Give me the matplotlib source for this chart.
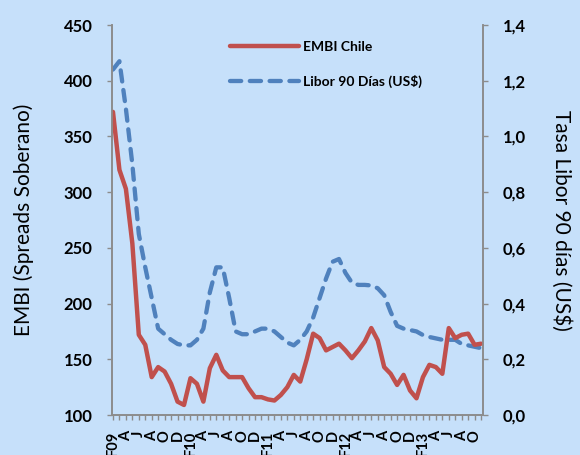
import matplotlib
matplotlib.use("Agg")
import matplotlib.pyplot as plt

# Monthly data, Feb 2009 .. Nov 2013
month_letters = ["F", "A", "J", "A", "O", "D"]
years = ["09", "10", "11", "12", "13"]

embi = [372, 320, 303, 254, 172, 163, 134, 143, 139, 128, 112, 109, 133, 128, 112,
        142, 154, 140, 134, 134, 134, 124, 116, 116, 114, 113, 118, 125, 136, 130,
        150, 173, 169, 158, 161, 164, 158, 151, 158, 166, 178, 167, 143, 137, 127,
        136, 122, 115, 134, 145, 143, 137, 178, 169, 172, 173, 163, 164]

libor = [1.24, 1.27, 1.10, 0.90, 0.65, 0.53, 0.42, 0.31, 0.29, 0.27, 0.255, 0.25,
         0.25, 0.27, 0.31, 0.44, 0.53, 0.53, 0.42, 0.30, 0.29, 0.29, 0.30, 0.31,
         0.31, 0.30, 0.28, 0.26, 0.25, 0.27, 0.30, 0.35, 0.42, 0.49, 0.55, 0.56,
         0.51, 0.475, 0.467, 0.467, 0.465, 0.455, 0.43, 0.37, 0.32, 0.31, 0.305,
         0.30, 0.287, 0.28, 0.275, 0.27, 0.27, 0.27, 0.255, 0.25, 0.245, 0.24]

left_ticks = [100, 150, 200, 250, 300, 350, 400, 450]
right_ticks = [0.0, 0.2, 0.4, 0.6, 0.8, 1.0, 1.2, 1.4]
right_tick_labels = ["0,0", "0,2", "0,4", "0,6", "0,8", "1,0", "1,2", "1,4"]

n = len(embi)
x = list(range(n))

# tick labels every two months
xlabels = []
for i in range(0, n, 2):
    k = i // 2
    m = month_letters[k % 6]
    if k % 6 == 0:
        xlabels.append(m + years[k // 6])
    else:
        xlabels.append(m)

bg = "#C6E0FA"
red = "#C0504D"
blue = "#4F81BD"
spine_c = "#8C8C8C"

fig = plt.figure(figsize=(5.8, 4.55), dpi=100, facecolor=bg)
ax = fig.add_axes([112/580, 1-415/455, (483-112)/580, (415-25)/455])
ax.set_facecolor(bg)
ax2 = ax.twinx()

l2, = ax2.plot(x, libor, color=blue, lw=3.1, dashes=(2.6, 2.0),
               dash_capstyle="round", solid_joinstyle="round",
               label="Libor 90 Días (US$)")
l1, = ax.plot(x, embi, color=red, lw=3.2, solid_joinstyle="round",
              solid_capstyle="round", label="EMBI Chile")
ax.set_zorder(ax2.get_zorder() + 1)
ax.patch.set_visible(False)
ax2.patch.set_facecolor(bg)

ax.set_xlim(-0.15, 57.3)
ax.set_ylim(100, 450)
ax2.set_ylim(0, 1.4)

for a in (ax, ax2):
    a.spines["top"].set_visible(False)
    for s in ("left", "right", "bottom"):
        a.spines[s].set_color(spine_c)
        a.spines[s].set_linewidth(1.2)

ytick_font = dict(fontfamily="Lato", fontweight="bold", fontsize=12)
xtick_font = dict(fontfamily="Lato", fontweight="bold", fontsize=10.5)

ax.set_yticks(left_ticks)
ax.set_yticklabels([str(v) for v in left_ticks], **ytick_font)
ax2.set_yticks(right_ticks)
ax2.set_yticklabels(right_tick_labels, **ytick_font)

ax.set_xticks(x, minor=True)
ax.set_xticks(list(range(0, n, 2)))
ax.set_xticklabels(xlabels, rotation=90, va="top", ha="center", **xtick_font)
ax.tick_params(axis="x", which="both", length=3.6, color=spine_c, width=1, pad=7.5)
ax.tick_params(axis="y", length=3.6, color=spine_c, width=1, pad=10.5)
ax2.tick_params(axis="y", length=3.6, color=spine_c, width=1, pad=10.5)

ax.set_ylabel("EMBI (Spreads Soberano)", fontfamily="Lato", fontsize=15, labelpad=21)
ax2.set_ylabel("Tasa Libor 90 días (US$)", fontfamily="Lato", fontsize=15,
               rotation=270, labelpad=33)

leg = ax.legend(handles=[l1, l2], loc="upper left", bbox_to_anchor=(218/580, 1-28/455),
                bbox_transform=fig.transFigure, frameon=False, handlelength=4.9,
                labelspacing=1.6, handletextpad=0.35,
                prop=dict(family="Lato", weight="bold", size=10))

fig.savefig("out.png", dpi=100, facecolor=bg)
